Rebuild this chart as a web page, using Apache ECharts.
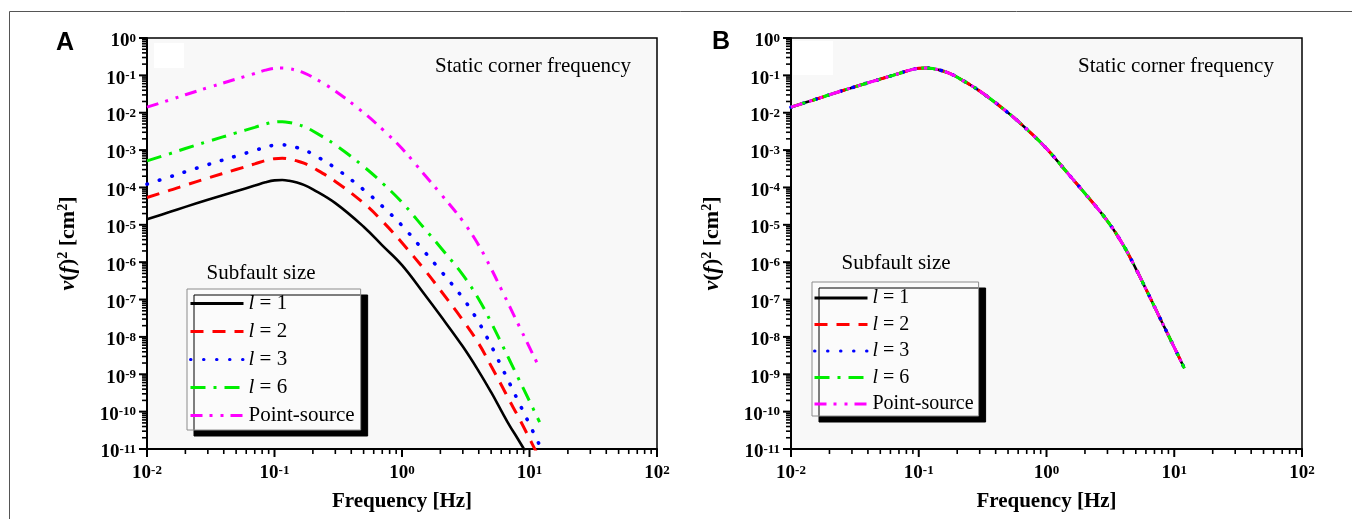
<!DOCTYPE html>
<html>
<head>
<meta charset="utf-8">
<script src="https://cdn.jsdelivr.net/npm/echarts@6/dist/echarts.min.js"></script>
<style>
html, body { margin: 0; padding: 0; background: #fff; }
#chart { width: 1352px; height: 519px; }
</style>
</head>
<body>
<div id="chart"></div>
<script>
// frequency samples [Hz]
var freq = [0.01, 0.015, 0.02, 0.03, 0.05, 0.07, 0.085, 0.1, 0.115, 0.13, 0.15, 0.17, 0.2, 0.3, 0.5, 0.7, 1, 1.5, 2, 3, 4, 5, 6, 7, 8, 10, 12];

// panel A, v(f)^2 [cm^2]
var aL1 = [1.41e-5, 2.19e-5, 3.02e-5, 4.68e-5, 7.94e-5, 1.12e-4, 1.38e-4, 1.55e-4, 1.58e-4, 1.51e-4, 1.35e-4, 1.17e-4, 8.91e-5, 3.80e-5, 8.91e-6, 2.82e-6, 8.32e-7, 1.38e-7, 3.72e-8, 5.50e-9, 1.20e-9, 3.31e-10, 1.07e-10, 4.17e-11, 2.00e-11, 5.62e-12, 2.00e-12];
var aL2 = [5.37e-5, 8.32e-5, 1.15e-4, 1.78e-4, 3.02e-4, 4.27e-4, 5.25e-4, 5.89e-4, 6.03e-4, 5.75e-4, 5.13e-4, 4.47e-4, 3.39e-4, 1.45e-4, 3.80e-5, 1.26e-5, 3.31e-6, 6.31e-7, 1.78e-7, 2.82e-8, 6.61e-9, 1.66e-9, 5.25e-10, 1.91e-10, 8.32e-11, 1.91e-11, 5.50e-12];
var aL3 = [1.23e-4, 1.91e-4, 2.63e-4, 4.07e-4, 6.92e-4, 9.77e-4, 1.20e-3, 1.35e-3, 1.38e-3, 1.32e-3, 1.17e-3, 1.02e-3, 7.76e-4, 3.31e-4, 8.71e-5, 3.16e-5, 9.55e-6, 1.91e-6, 6.03e-7, 1.10e-7, 2.45e-8, 5.89e-9, 1.66e-9, 5.62e-10, 2.19e-10, 4.57e-11, 1.26e-11];
var aL6 = [5.13e-4, 7.94e-4, 1.10e-3, 1.70e-3, 2.88e-3, 4.07e-3, 5.01e-3, 5.62e-3, 5.75e-3, 5.50e-3, 4.90e-3, 4.27e-3, 3.24e-3, 1.38e-3, 3.63e-4, 1.32e-4, 3.98e-5, 7.94e-6, 2.51e-6, 4.57e-7, 1.02e-7, 2.45e-8, 6.92e-9, 2.34e-9, 9.12e-10, 1.91e-10, 5.25e-11];
var aPoint = [1.41e-2, 2.19e-2, 3.02e-2, 4.68e-2, 7.94e-2, 1.12e-1, 1.38e-1, 1.55e-1, 1.58e-1, 1.51e-1, 1.35e-1, 1.17e-1, 8.91e-2, 3.80e-2, 1.0e-2, 3.63e-3, 1.10e-3, 2.19e-4, 6.92e-5, 1.26e-5, 2.82e-6, 6.76e-7, 1.91e-7, 6.46e-8, 2.51e-8, 5.25e-9, 1.45e-9];

// panel B: the five curves lie on top of each other
var bL1 = [1.41e-2, 2.19e-2, 3.02e-2, 4.68e-2, 7.94e-2, 1.12e-1, 1.38e-1, 1.55e-1, 1.58e-1, 1.51e-1, 1.35e-1, 1.17e-1, 8.91e-2, 3.80e-2, 1.0e-2, 3.63e-3, 1.10e-3, 2.19e-4, 6.92e-5, 1.26e-5, 2.82e-6, 6.76e-7, 1.91e-7, 6.46e-8, 2.51e-8, 5.25e-9, 1.45e-9];
var bL2 = bL1, bL3 = bL1, bL6 = bL1, bPoint = bL1;

var names = ['l = 1', 'l = 2', 'l = 3', 'l = 6', 'Point-source'];
var xMajor = [0.01, 0.1, 1, 10, 100];
var yMajor = [1e-11, 1e-10, 1e-9, 1e-8, 1e-7, 1e-6, 1e-5, 1e-4, 1e-3, 1e-2, 1e-1, 1];

// minor ticks 2..9 in every decade
function minorTicks(lo, hi) {
    var out = [];
    for (var e = lo; e < hi; e++) {
        for (var m = 2; m <= 9; m++) out.push(+(m * Math.pow(10, e)).toPrecision(3));
    }
    return out;
}
var xMinor = minorTicks(-2, 2);
var yMinor = minorTicks(-11, 0);

var serif = '"Liberation Serif", "Times New Roman", serif';
var lineStyles = [
    { color: '#000000', type: 'solid', width: 2.6 },
    { color: '#ff0000', type: [13, 9], width: 3 },
    { color: '#0000ff', type: [0.5, 12.5], width: 3.6, cap: 'round' },
    { color: '#00ee00', type: [15, 8, 3, 8], width: 3 },
    { color: '#ff00ff', type: [12, 7, 3, 8, 3, 7], width: 3 }
];

function pow10Label(v) {
    var e = Math.round(Math.log(v) / Math.LN10);
    return '{b|10}{s|' + e + '}';
}
var tickRich = {
    b: { fontFamily: serif, fontWeight: 'bold', fontSize: 19, lineHeight: 19, color: '#000' },
    s: { fontFamily: serif, fontWeight: 'bold', fontSize: 13, lineHeight: 13, verticalAlign: 'top', color: '#000' }
};
var nameRich = {
    i: { fontFamily: serif, fontWeight: 'bold', fontStyle: 'italic', fontSize: 22, lineHeight: 24, color: '#000' },
    n: { fontFamily: serif, fontWeight: 'bold', fontSize: 22, lineHeight: 24, color: '#000' },
    s: { fontFamily: serif, fontWeight: 'bold', fontSize: 14, lineHeight: 14, verticalAlign: 'top', color: '#000' }
};

var grids = [
    { left: 147, top: 38, width: 510, height: 411 },
    { left: 791, top: 38, width: 511, height: 411 }
];

var xAxes = [], yAxes = [];
grids.forEach(function (g, gi) {
    g.show = true;
    g.backgroundColor = '#f8f8f8';
    g.borderColor = '#000';
    g.borderWidth = 1.5;
    g.outerBoundsMode = 'none';
    xAxes.push({
        type: 'log', gridIndex: gi, position: 'bottom', min: 0.01, max: 100,
        axisLine: { show: true, onZero: false, lineStyle: { color: '#000', width: 2 } },
        axisTick: { show: false },
        axisLabel: { customValues: xMajor, margin: 15, formatter: pow10Label, rich: tickRich },
        splitLine: { show: false },
        name: 'Frequency [Hz]', nameLocation: 'middle', nameGap: 42,
        nameTextStyle: { fontFamily: serif, fontWeight: 'bold', fontSize: 21, color: '#000' }
    });
    yAxes.push({
        type: 'log', gridIndex: gi, position: 'left', min: 1e-11, max: 1,
        axisLine: { show: true, onZero: false, lineStyle: { color: '#000', width: 2 } },
        axisTick: { show: false },
        axisLabel: { customValues: yMajor, margin: 11, padding: [7, 0, 0, 0], formatter: pow10Label, rich: tickRich },
        splitLine: { show: false },
        name: '{i|v}{n|(}{i|f}{n|)}{s|2}{n| [cm}{s|2}{n|]}',
        nameLocation: 'middle', nameRotate: 90, nameGap: 67,
        nameTextStyle: { rich: nameRich }
    });
});

var panelData = [[aL1, aL2, aL3, aL6, aPoint], [bL1, bL2, bL3, bL6, bPoint]];
var series = [];
panelData.forEach(function (curves, pi) {
    curves.forEach(function (vals, ci) {
        series.push({
            name: names[ci],
            type: 'line',
            xAxisIndex: pi,
            yAxisIndex: pi,
            data: freq.map(function (f, k) { return [f, vals[k]]; }),
            symbol: 'none',
            showSymbol: false,
            smooth: 0.4,
            clip: true,
            lineStyle: lineStyles[ci],
            itemStyle: { color: lineStyles[ci].color },
            z: 3 + ci
        });
    });
});

function legendFormatter(name) {
    if (name.charAt(0) === 'l') return '{i|l}{t|' + name.slice(1) + '}';
    return '{t|' + name + '}';
}
function makeLegend(left, top, fs, gap, pad) {
    return {
        orient: 'vertical', left: left, top: top,
        padding: pad,
        itemWidth: 53, itemHeight: 14, itemGap: gap,
        backgroundColor: '#fbfbfb', borderColor: '#8c8c8c', borderWidth: 1,
        shadowColor: '#000', shadowBlur: 0, shadowOffsetX: 7, shadowOffsetY: 6,
        selectedMode: false,
        data: names,
        formatter: legendFormatter,
        itemStyle: { opacity: 0 },
        lineStyle: { width: 3 },
        textStyle: {
            fontFamily: serif, fontSize: fs, color: '#000',
            rich: {
                i: { fontFamily: serif, fontStyle: 'italic', fontSize: fs, lineHeight: fs + 1, color: '#000' },
                t: { fontFamily: serif, fontSize: fs, lineHeight: fs + 1, color: '#000' }
            }
        }
    };
}

function label(x, y, text, font, align) {
    return {
        type: 'text', x: x, y: y, z: 10,
        style: { text: text, font: font, fill: '#000', align: align || 'left', verticalAlign: 'middle' }
    };
}

var graphics = [
    { type: 'polyline', z: 0, shape: { points: [[9.5, 519], [9.5, 11.5], [1352, 11.5]] }, style: { stroke: '#555', lineWidth: 1, fill: null } },
    { type: 'rect', z: 1, shape: { x: 154, y: 43, width: 30, height: 25 }, style: { fill: '#fff' } },
    { type: 'rect', z: 1, shape: { x: 793, y: 41, width: 40, height: 34 }, style: { fill: '#fff' } },
    label(65, 43, 'A', 'bold 25px "Liberation Sans", Arial, sans-serif', 'center'),
    label(721, 42, 'B', 'bold 25px "Liberation Sans", Arial, sans-serif', 'center'),
    label(435, 66, 'Static corner frequency', '21px ' + serif),
    label(1078, 66, 'Static corner frequency', '21px ' + serif),
    label(261, 273, 'Subfault size', '21px ' + serif, 'center'),
    label(896, 263, 'Subfault size', '21px ' + serif, 'center')
];

var option = {
    animation: false,
    backgroundColor: '#fff',
    grid: grids,
    xAxis: xAxes,
    yAxis: yAxes,
    legend: [makeLegend(187, 289, 21, 7, [4, 6, 4, 2]), makeLegend(812, 282, 20, 6.5, [6, 5, 2, 1])],
    series: series,
    graphic: graphics
};

var myChart = echarts.init(document.getElementById('chart'));
myChart.setOption(option);

// outside ticks (major and log minor), positioned with the chart's own axes
var ticks = [];
function addTicks(gi, dir, values, len, w) {
    values.forEach(function (v) {
        var p = myChart.convertToPixel({ gridIndex: gi }, dir === 'x' ? [v, 1e-11] : [0.01, v]);
        if (!p) return;
        ticks.push({
            type: 'line', z: 10, silent: true,
            shape: dir === 'x'
                ? { x1: p[0], y1: p[1], x2: p[0], y2: p[1] + len }
                : { x1: p[0] - len, y1: p[1], x2: p[0], y2: p[1] },
            style: { stroke: '#000', lineWidth: w }
        });
    });
}
[0, 1].forEach(function (gi) {
    addTicks(gi, 'x', xMajor, 8, 2);
    addTicks(gi, 'x', xMinor, 5, 1.6);
    addTicks(gi, 'y', yMajor, 8, 2);
    addTicks(gi, 'y', yMinor, 5, 1.6);
});
myChart.setOption({ graphic: graphics.concat(ticks) });
</script>
</body>
</html>
